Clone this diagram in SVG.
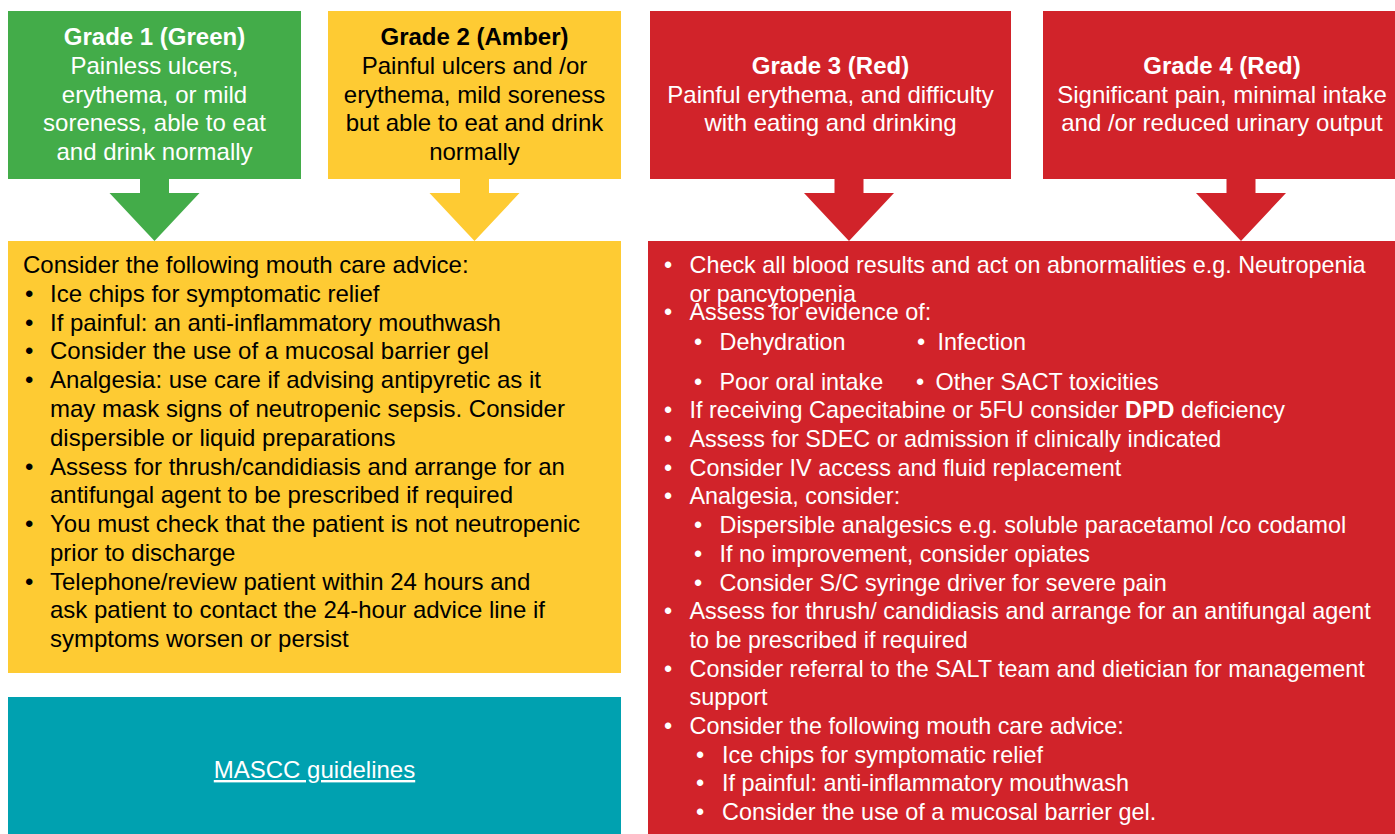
<svg xmlns="http://www.w3.org/2000/svg" xmlns:xlink="http://www.w3.org/1999/xlink" width="1395" height="834" viewBox="0 0 1395 834">
<style>
text{font-family:"Liberation Sans",Arial,sans-serif;font-size:24px}
.c{text-anchor:middle}
.b{font-weight:bold}
.w{fill:#ffffff}
.k{fill:#000000}
.s{font-size:23.4px}
.green{fill:#43AC49}
.amber{fill:#FECB33}
.red{fill:#D1232A}
.teal{fill:#00A1B0}
</style>
<defs>
<path id="arrow" d="M-14.5,0 L14.5,0 L14.5,15 L45,15 L0,63 L-45,15 L-14.5,15 Z"/>
</defs>
<rect width="1395" height="834" fill="#ffffff"/>

<g id="connectors">
<use xlink:href="#arrow" x="154.5" y="178" class="green"/>
<use xlink:href="#arrow" x="474.5" y="178" class="amber"/>
<use xlink:href="#arrow" x="849" y="178" class="red"/>
<use xlink:href="#arrow" x="1241" y="178" class="red"/>
</g>

<g id="grade1">
<rect x="8" y="11" width="293" height="168" class="green"/>
<text class="c b w" x="154.5" y="45">Grade 1 (Green)</text>
<text class="c w" x="154.5" y="74">Painless ulcers,</text>
<text class="c w" x="154.5" y="102.5">erythema, or mild</text>
<text class="c w" x="154.5" y="131">soreness, able to eat</text>
<text class="c w" x="154.5" y="159.5">and drink normally</text>
</g>

<g id="grade2">
<rect x="328" y="11" width="293" height="168" class="amber"/>
<text class="c b k" x="474.5" y="45">Grade 2 (Amber)</text>
<text class="c k" x="474.5" y="74">Painful ulcers and /or</text>
<text class="c k" x="474.5" y="102.5">erythema, mild soreness</text>
<text class="c k" x="474.5" y="131">but able to eat and drink</text>
<text class="c k" x="474.5" y="159.5">normally</text>
</g>

<g id="grade3">
<rect x="650" y="11" width="361" height="168" class="red"/>
<text class="c b w" x="830.5" y="74">Grade 3 (Red)</text>
<text class="c w" x="830.5" y="102.5">Painful erythema, and difficulty</text>
<text class="c w" x="830.5" y="131">with eating and drinking</text>
</g>

<g id="grade4">
<rect x="1043" y="11" width="360" height="168" class="red"/>
<text class="c b w" x="1222" y="74">Grade 4 (Red)</text>
<text class="c w" x="1222" y="102.5">Significant pain, minimal intake</text>
<text class="c w" x="1222" y="131">and /or reduced urinary output</text>
</g>

<g id="advice-green-amber">
<rect x="8" y="241" width="613" height="432" class="amber"/>
<g class="k">
<text x="23" y="273.3">Consider the following mouth care advice:</text>
<text x="25" y="302">•</text><text x="50" y="302">Ice chips for symptomatic relief</text>
<text x="25" y="330.7">•</text><text x="50" y="330.7">If painful: an anti-inflammatory mouthwash</text>
<text x="25" y="359.4">•</text><text x="50" y="359.4">Consider the use of a mucosal barrier gel</text>
<text x="25" y="388.1">•</text><text x="50" y="388.1">Analgesia: use care if advising antipyretic as it</text>
<text x="50" y="416.8">may mask signs of neutropenic sepsis. Consider</text>
<text x="50" y="445.5">dispersible or liquid preparations</text>
<text x="25" y="474.5">•</text><text x="50" y="474.5">Assess for thrush/candidiasis and arrange for an</text>
<text x="50" y="503.2">antifungal agent to be prescribed if required</text>
<text x="25" y="532">•</text><text x="50" y="532">You must check that the patient is not neutropenic</text>
<text x="50" y="560.7">prior to discharge</text>
<text x="25" y="589.5">•</text><text x="50" y="589.5">Telephone/review patient within 24 hours and</text>
<text x="50" y="618.2">ask patient to contact the 24-hour advice line if</text>
<text x="50" y="646.9">symptoms worsen or persist</text>
</g>
</g>

<g id="mascc">
<rect x="8" y="697" width="613" height="137" class="teal"/>
<text class="c w" x="314.5" y="778" text-decoration="underline">MASCC guidelines</text>
</g>

<g id="advice-red">
<rect x="648" y="241" width="747" height="593" class="red"/>
<g class="w s">
<text class="s" x="664" y="273">•</text><text class="s" x="689.5" y="273">Check all blood results and act on abnormalities e.g. Neutropenia</text>
<text class="s" x="689.5" y="301.6">or pancytopenia</text>
<text class="s" x="664" y="320">•</text><text class="s" x="689.5" y="320">Assess for evidence of:</text>
<text class="s" x="694" y="350">•</text><text class="s" x="719.5" y="350">Dehydration</text>
<text class="s" x="917" y="350">•</text><text class="s" x="937.5" y="350">Infection</text>
<text class="s" x="694" y="390">•</text><text class="s" x="719.5" y="390">Poor oral intake</text>
<text class="s" x="916" y="390">•</text><text class="s" x="935.5" y="390">Other SACT toxicities</text>
<text class="s" x="664" y="418.3">•</text><text class="s" x="689.5" y="418.3">If receiving Capecitabine or 5FU consider <tspan class="b">DPD</tspan> deficiency</text>
<text class="s" x="664" y="447">•</text><text class="s" x="689.5" y="447">Assess for SDEC or admission if clinically indicated</text>
<text class="s" x="664" y="475.7">•</text><text class="s" x="689.5" y="475.7">Consider IV access and fluid replacement</text>
<text class="s" x="664" y="504.4">•</text><text class="s" x="689.5" y="504.4">Analgesia, consider:</text>
<text class="s" x="694" y="533">•</text><text class="s" x="719.5" y="533">Dispersible analgesics e.g. soluble paracetamol /co codamol</text>
<text class="s" x="694" y="561.8">•</text><text class="s" x="719.5" y="561.8">If no improvement, consider opiates</text>
<text class="s" x="694" y="590.5">•</text><text class="s" x="719.5" y="590.5">Consider S/C syringe driver for severe pain</text>
<text class="s" x="664" y="619.2">•</text><text class="s" x="689.5" y="619.2">Assess for thrush/ candidiasis and arrange for an antifungal agent</text>
<text class="s" x="689.5" y="647.9">to be prescribed if required</text>
<text class="s" x="664" y="676.6">•</text><text class="s" x="689.5" y="676.6">Consider referral to the SALT team and dietician for management</text>
<text class="s" x="689.5" y="705.3">support</text>
<text class="s" x="664" y="734">•</text><text class="s" x="689.5" y="734">Consider the following mouth care advice:</text>
<text class="s" x="696" y="762.7">•</text><text class="s" x="722" y="762.7">Ice chips for symptomatic relief</text>
<text class="s" x="696" y="791.4">•</text><text class="s" x="722" y="791.4">If painful: anti-inflammatory mouthwash</text>
<text class="s" x="696" y="820">•</text><text class="s" x="722" y="820">Consider the use of a mucosal barrier gel.</text>
</g>
</g>
</svg>
